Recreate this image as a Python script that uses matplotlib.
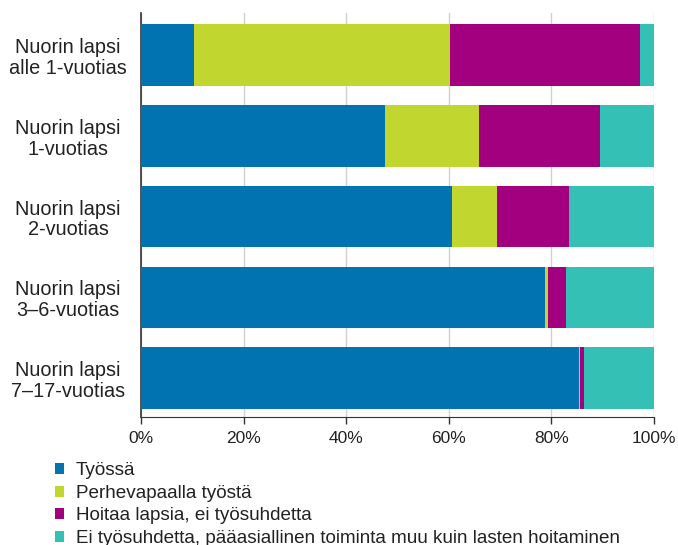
import matplotlib
matplotlib.use("Agg")
import matplotlib.pyplot as plt
import numpy as np

# Categories (top to bottom) and series shares in percent
categories = ["Nuorin lapsi\nalle 1-vuotias", "Nuorin lapsi\n1-vuotias",
              "Nuorin lapsi\n2-vuotias", "Nuorin lapsi\n3\u20136-vuotias",
              "Nuorin lapsi\n7\u201317-vuotias"]
series_names = ["Työssä", "Perhevapaalla työstä", "Hoitaa lapsia, ei työsuhdetta",
                "Ei työsuhdetta, pääasiallinen toiminta muu kuin lasten hoitaminen"]
tyossa = [10.3, 47.5, 60.6, 78.8, 85.3]
perhevapaa = [50.0, 18.4, 8.8, 0.6, 0.3]
hoitaa = [36.9, 23.5, 14.1, 3.5, 0.7]
muu = [2.8, 10.6, 16.5, 17.1, 13.7]
xticks = [0, 20, 40, 60, 80, 100]

colors = ["#0073B0", "#C1D72F", "#A3007F", "#35C0B6"]
text_col = "#222222"

plt.rcParams['font.family'] = ['Liberation Sans', 'DejaVu Sans']

fig = plt.figure(figsize=(6.78, 5.45), dpi=100)
ax = fig.add_axes([0.208, 0.235, 0.7566, 0.741])

y = np.arange(len(categories))
left = np.zeros(len(categories))
handles = []
for name, vals, col in zip(series_names, [tyossa, perhevapaa, hoitaa, muu], colors):
    b = ax.barh(y, vals, left=left, height=0.76, color=col, label=name, zorder=3)
    handles.append(b)
    left += np.array(vals)

ax.set_xlim(0, 100)
ax.set_ylim(4.48, -0.52)
ax.set_xticks(xticks)
ax.set_xticklabels([f"{t}%" for t in xticks], fontsize=12.5, color=text_col)
ax.set_yticks(y)
ax.set_yticklabels(categories, fontsize=14.3, color=text_col, ha='center', linespacing=1.12)
ax.tick_params(axis='y', length=0, pad=52.5)
ax.tick_params(axis='x', length=5, width=1, color='#333333', pad=5)

ax.grid(axis='x', color='#d0d0d0', linewidth=1, zorder=0)
ax.set_axisbelow(True)
for s in ['top', 'right']:
    ax.spines[s].set_visible(False)
ax.spines['left'].set_color('#333333')
ax.spines['bottom'].set_color('#333333')
ax.spines['left'].set_linewidth(1.2)

fig.legend(handles=handles, labels=series_names, loc='upper left',
           bbox_to_anchor=(0.081, 0.152), frameon=False, fontsize=13.6,
           handlelength=0.5, handleheight=0.5, handletextpad=0.59,
           labelspacing=0.3, borderaxespad=0, borderpad=0, labelcolor=text_col)

fig.savefig("out.png", dpi=100)
